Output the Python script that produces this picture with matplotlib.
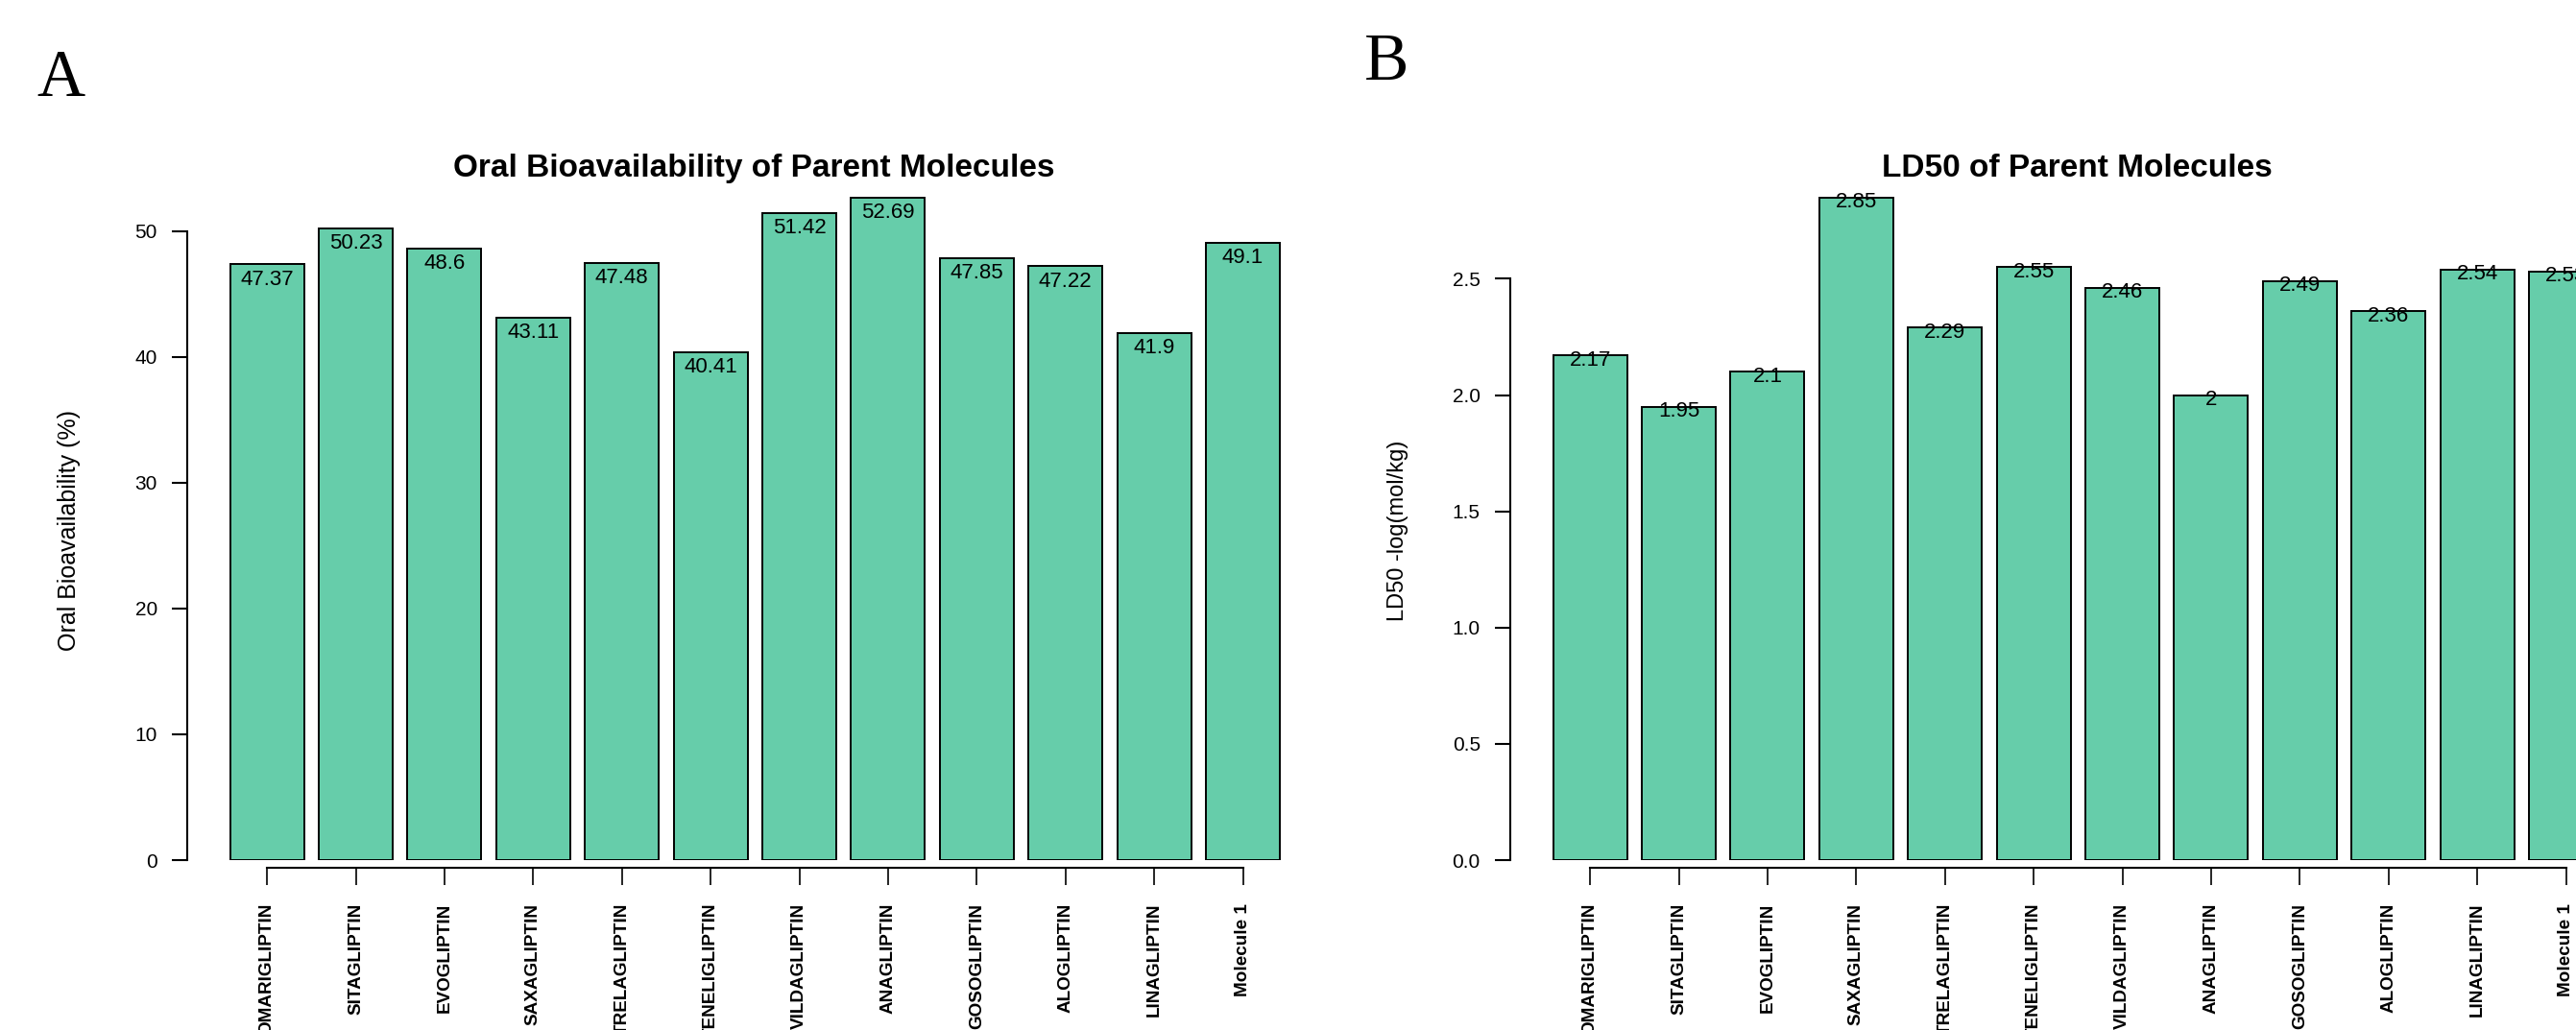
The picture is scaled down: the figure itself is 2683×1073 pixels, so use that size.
import matplotlib
matplotlib.use("Agg")
import matplotlib.pyplot as plt

plt.rcParams['font.family'] = ['Liberation Sans', 'DejaVu Sans']

drugs = ["OMARIGLIPTIN", "SITAGLIPTIN", "EVOGLIPTIN", "SAXAGLIPTIN", "TRELAGLIPTIN",
         "TENELIGLIPTIN", "VILDAGLIPTIN", "ANAGLIPTIN", "GOSOGLIPTIN", "ALOGLIPTIN",
         "LINAGLIPTIN", "Molecule 1"]
oral_bio = [47.37, 50.23, 48.6, 43.11, 47.48, 40.41, 51.42, 52.69, 47.85, 47.22, 41.9, 49.1]
ld50 = [2.17, 1.95, 2.1, 2.85, 2.29, 2.55, 2.46, 2, 2.49, 2.36, 2.54, 2.53]

W, H = 2683, 1073
fig = plt.figure(figsize=(W / 100, H / 100), dpi=100)
fig.patch.set_facecolor("white")

bar_col = "#66CDAA"


def panel(left_px, vals, title, ylabel, yticks, ytick_fmt, lab_off, ylab_x, ylab_size):
    # axes placed in pixel terms of the original figure
    ax = fig.add_axes([left_px / W, (H - 896) / H, 1181 / W, 718 / H])
    x = list(range(len(vals)))
    ax.bar(x, vals, width=1 / 1.2, color=bar_col, edgecolor="black", linewidth=1.4)
    ax.set_xlim(-0.9, -0.9 + 1181 / 92.4)
    ax.set_ylim(0, max(vals) * 1.04)

    for s in ["top", "right"]:
        ax.spines[s].set_visible(False)
    ax.spines["left"].set_bounds(yticks[0], yticks[-1])
    ax.spines["left"].set_linewidth(1.5)
    ax.spines["bottom"].set_position(("outward", 5.8))
    ax.spines["bottom"].set_bounds(0, len(vals) - 1)
    ax.spines["bottom"].set_linewidth(1.5)

    ax.set_yticks(yticks)
    ax.set_yticklabels([ytick_fmt.format(t) for t in yticks], fontsize=15)
    ax.tick_params(axis="y", length=11.5, width=1.5, pad=11)
    ax.set_xticks(x)
    ax.set_xticklabels(drugs, rotation=90, fontsize=13.6, fontweight="bold")
    ax.tick_params(axis="x", length=13, width=1.2, pad=13.5)

    for xi, v in zip(x, vals):
        ax.text(xi, v - lab_off, f"{v:g}", ha="center", va="center", fontsize=16)

    ax.set_ylabel(ylabel, fontsize=ylab_size)
    ax.yaxis.set_label_coords(ylab_x / W, 1 - 553 / H, transform=fig.transFigure)

    cx = (left_px + 1181 / 2) / W
    fig.text(cx, 1 - 184 / H, title, ha="center", va="baseline",
             fontsize=24, fontweight="bold")
    return ax


panel(195, oral_bio, "Oral Bioavailability of Parent Molecules", "Oral Bioavailability (%)",
      [0, 10, 20, 30, 40, 50], "{:d}", 1.2, 84, 18)
panel(1573, ld50, "LD50 of Parent Molecules", "LD50 -log(mol/kg)",
      [0.0, 0.5, 1.0, 1.5, 2.0, 2.5], "{:.1f}", 0.02, 1467, 17)

fig.text(38 / W, 1 - 100 / H, "A", fontsize=50, family="Liberation Serif", va="baseline")
fig.text(1421 / W, 1 - 83 / H, "B", fontsize=50, family="Liberation Serif", va="baseline")

fig.savefig("out.png", dpi=100)
